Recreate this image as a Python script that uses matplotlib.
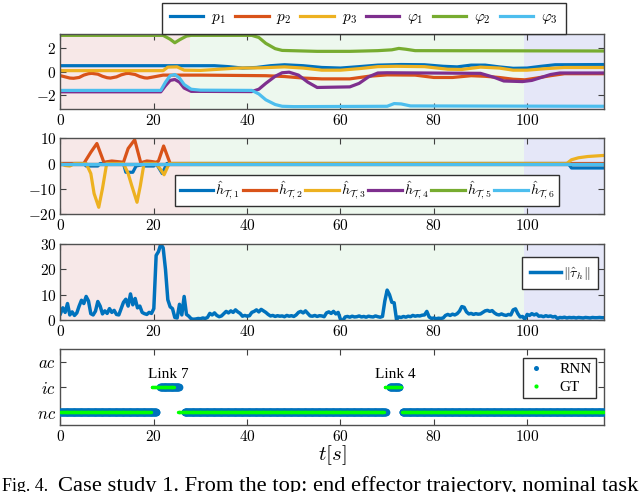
import numpy as np
import matplotlib
matplotlib.use("Agg")
import matplotlib.pyplot as plt
from matplotlib.lines import Line2D

plt.rcParams['font.family'] = 'serif'
plt.rcParams['font.serif'] = ['cmr10']
plt.rcParams['mathtext.fontset'] = 'cm'
plt.rcParams['axes.formatter.use_mathtext'] = True
plt.rcParams['axes.unicode_minus'] = True

# matlab default colours
C = ['#0072BD', '#D95319', '#EDB120', '#7E2F8E', '#77AC30', '#4DBEEE']
BG = ['#F7E8E8', '#EDF8EE', '#E5E7F8']
phase_edges = [0, 27.8, 99.4, 116.5]

# ---- panel 1 : end effector trajectory
p1_t = [0, 33, 36, 39, 42, 45, 48, 52, 56, 60, 64, 68, 73, 78, 82, 85, 88, 91, 94, 97, 100, 103, 106, 117]
p1_v = [0.5, 0.5, 0.42, 0.3, 0.35, 0.5, 0.58, 0.5, 0.35, 0.3, 0.42, 0.55, 0.6, 0.58, 0.45, 0.4, 0.55, 0.55, 0.4, 0.28, 0.3, 0.45, 0.58, 0.6]
p2_t = [0, 1, 2, 2.8, 4, 5, 6, 6.7, 8, 9, 10, 10.7, 12, 13, 14, 14.6, 16, 17, 18, 18.6, 20, 22, 30, 44, 48, 52, 56, 62, 66, 70, 76, 80, 84, 88, 91, 94, 97, 99.5, 102, 105, 108, 117]
p2_v = [-0.35, -0.45, -0.55, -0.57, -0.5, -0.3, -0.18, -0.15, -0.22, -0.4, -0.52, -0.55, -0.45, -0.28, -0.17, -0.15, -0.25, -0.42, -0.53, -0.55, -0.45, -0.3, -0.3, -0.35, -0.42, -0.55, -0.62, -0.62, -0.4, -0.28, -0.3, -0.5, -0.5, -0.35, -0.4, -0.5, -0.65, -0.7, -0.55, -0.35, -0.18, -0.18]
p3_t = [0, 22, 23, 25, 26.5, 30, 34, 38, 43, 48, 52, 56, 60, 64, 68, 72, 78, 83, 86, 90, 94, 97, 100, 104, 108, 117]
p3_v = [0.08, 0.08, 0.38, 0.4, 0.12, 0.1, 0.2, 0.3, 0.32, 0.4, 0.3, 0.12, 0.12, 0.25, 0.42, 0.45, 0.42, 0.2, 0.18, 0.38, 0.3, 0.12, 0.12, 0.25, 0.35, 0.35]
f1_t = [0, 21.5, 22.5, 23.5, 24.5, 25.5, 26.5, 28, 41, 42.5, 44, 46, 47.5, 49, 51, 53, 55, 62, 64, 66, 68, 70, 90, 93, 95, 99, 101, 103, 105, 107, 117]
f1_v = [-1.72, -1.72, -1.2, -0.75, -0.67, -0.9, -1.4, -1.68, -1.7, -1.5, -1.0, -0.4, -0.1, -0.05, -0.3, -0.9, -1.35, -1.3, -1.0, -0.45, -0.12, -0.1, -0.15, -0.5, -0.8, -0.85, -0.75, -0.5, -0.25, -0.12, -0.12]
f2_t = [0, 22, 23.5, 24.5, 25.5, 27, 28, 41, 42.5, 44, 46, 47.5, 55, 62, 68, 71, 72.5, 74, 76, 117]
f2_v = [3.08, 3.08, 2.75, 2.45, 2.7, 3.02, 3.08, 3.08, 2.9, 2.4, 1.95, 1.8, 1.72, 1.72, 1.78, 1.85, 1.97, 1.9, 1.78, 1.75]
f3_t = [0, 21.5, 22.5, 23.5, 24.5, 25.5, 26.5, 28, 30, 41, 42.5, 44, 46, 47.5, 50, 70, 71.5, 73, 75, 117]
f3_v = [-1.6, -1.6, -0.9, -0.35, -0.25, -0.55, -1.1, -1.5, -1.58, -1.6, -1.9, -2.4, -2.8, -2.95, -2.98, -2.95, -2.72, -2.75, -2.92, -2.95]

# ---- panel 2 : nominal task estimates h_T
h1_t = [0, 5, 5.5, 8, 8.5, 13.5, 14, 15.5, 16.2, 17.5, 18, 20, 20.5, 21.8, 22.8, 108.8, 109.5, 117]
h1_v = [0, 0, -1, -1, 0, 0, -3.5, -3.5, -1, -0.5, -1, -1, 0, -4, 0, 0, -1.8, -1.8]
h2_t = [0, 5, 6.5, 7.8, 9.3, 11, 13.5, 14.5, 15.9, 17.2, 18.5, 19.5, 20.5, 21, 22.1, 23.5, 117]
h2_v = [0, 0, 4.5, 8, 0.5, 1, 0.5, 6, 9.5, 0.3, 1, 0.8, 0.5, 1, 7, 0, 0]
h3_t = [0, 1, 2, 3, 5.5, 6.5, 7.2, 8.2, 9, 9.9, 13.5, 14.5, 15.3, 16.4, 17.1, 17.9, 20.5, 21.3, 22.2, 23.3, 108.5, 109.5, 111, 113, 117]
h3_v = [0, -0.8, -1, 0, 0, -4, -12, -17.5, -10, 0, 0, -4, -9, -15.5, -9, 0, 0, -2, -4.5, 0, 0, 1.5, 2.3, 2.8, 3.3]
h4_t = [0, 117]
h4_v = [0, 0]
h5_t = [0, 117]
h5_v = [0, 0]
h6_t = [0, 117]
h6_v = [0, 0]

# ---- panel 3 : ||tau_h||, one value every 0.5 s
tau_v = [
    2.5, 4.8, 3.0, 6.5, 2.0, 3.2, 1.8, 2.8, 5.5, 7.8, 6.5, 9.3, 7.5, 2.5, 2.0, 3.5, 7.3, 5.5, 2.4, 3.6,
    2.6, 4.5, 3.0, 3.8, 2.2, 2.0, 4.5, 7.0, 8.2, 5.5, 10.3, 6.0, 8.5, 4.8, 5.5, 3.0, 2.5, 2.2, 3.0, 2.6,
    4.5, 25.5, 27.0, 30.0, 28.5, 20.0, 8.0, 5.2, 4.5, 1.0, 0.8, 6.2, 2.0, 9.3, 2.2, 1.5, 0.5, 0.3, 0.4, 0.6,
    0.5, 0.8, 0.6, 1.0, 2.6, 2.0, 2.8, 1.8, 1.3, 1.6, 2.5, 3.4, 2.8, 3.6, 3.0, 4.0, 3.2, 2.6, 1.5, 1.8,
    1.5, 1.7, 3.0, 3.4, 4.0, 3.2, 4.2, 3.6, 3.0, 2.2, 1.6, 1.8, 1.4, 1.7, 1.5, 1.6, 1.3, 1.8, 1.5, 1.7,
    1.4, 2.0, 3.0, 3.4, 2.8, 3.6, 2.6, 1.6, 1.5, 1.8, 1.4, 1.7, 1.6, 1.3, 2.8, 3.2, 2.6, 3.4, 2.4, 3.0,
    0.2, -0.2, 1.2, 1.4, 1.1, 1.5, 1.2, 1.3, 1.6, 1.2, 1.4, 1.1, 1.5, 1.3, 1.2, 1.6, 1.3, 1.1, 1.4, 7.5,
    11.8, 10.0, 7.0, 6.8, 0.2, 1.2, 1.0, 1.4, 1.1, 1.5, 1.3, 1.8, 1.5, 1.7, 1.6, 1.9, 2.0, 3.4, 1.2, 0.6,
    0.8, 0.5, 0.7, 0.6, 0.8, 1.8, 2.2, 1.8, 2.3, 2.0, 2.5, 3.5, 5.3, 5.0, 3.2, 2.4, 2.6, 2.2, 2.5, 2.3,
    2.4, 3.0, 3.6, 3.8, 3.4, 3.7, 2.8, 2.2, 2.0, 2.4, 2.0, 1.8, 2.2, 2.0, 4.0, 4.4, 2.5, 1.2, 1.4, 0.3,
    2.2, 1.8, 2.5, 2.0, 2.4, 1.5, 1.6, 1.3, 1.7, 1.4, 1.6, 1.2, 1.4, 0.6, 1.0, 0.9, 1.1, 0.8, 1.0, 0.9,
    1.0, 0.8, 1.0, 0.9, 0.8, 1.0, 0.9, 0.8, 1.0, 0.9, 0.9, 1.0, 0.9, 0.9, 0.9,
]
tau_t = np.arange(len(tau_v)) * 0.5

# ---- panel 4 : contact classification (0 = nc, 1 = ic, 2 = ac)
rnn_start = [0, 21.4, 26.6, 70.6, 73.3]
rnn_end = [20.5, 25.3, 69.7, 72.6, 116.4]
rnn_cls = [0, 1, 0, 1, 0]
gt_start = [0, 19.6, 25.2, 69.5, 73.2]
gt_end = [19.3, 24.3, 69.3, 72.9, 116.4]
gt_cls = [0, 1, 0, 1, 0]
class_labels = ['$nc$', '$ic$', '$ac$']
link_names = ['Link 7', 'Link 4']
link_t = [23.2, 71.8]


def expand(starts, ends, cls, dt=0.1):
    tt, cc = [], []
    for s, e, c in zip(starts, ends, cls):
        seg = np.arange(s, e + 1e-9, dt)
        tt.append(seg)
        cc.append(np.full(len(seg), c))
    return np.concatenate(tt), np.concatenate(cc)


fig = plt.figure(figsize=(6.4, 4.92), dpi=100)
L, R = 0.0945, 0.944
ax1 = fig.add_axes([L, 0.778, R - L, 0.153])
ax2 = fig.add_axes([L, 0.566, R - L, 0.1525])
ax3 = fig.add_axes([L, 0.3496, R - L, 0.1544])
ax4 = fig.add_axes([L, 0.136, R - L, 0.1547])

for ax in (ax1, ax2, ax3):
    for i in range(3):
        ax.axvspan(phase_edges[i], phase_edges[i + 1], color=BG[i], lw=0, zorder=0)

for ax in (ax1, ax2, ax3, ax4):
    ax.set_xlim(0, 116.5)
    ax.set_xticks([0, 20, 40, 60, 80, 100])
    ax.tick_params(direction='in', top=True, right=True, labelsize=11, length=4,
                   color='#404040', pad=3)
    for s in ax.spines.values():
        s.set_color('#505050')
        s.set_linewidth(1.0)

leg_kw = dict(frameon=True, fancybox=False, edgecolor='#303030', framealpha=1,
              borderaxespad=0)

lw = 2.3
ax1.plot(p1_t, p1_v, color=C[0], lw=lw, label='$p_1$')
ax1.plot(p2_t, p2_v, color=C[1], lw=lw, label='$p_2$')
ax1.plot(p3_t, p3_v, color=C[2], lw=lw, label='$p_3$')
ax1.plot(f1_t, f1_v, color=C[3], lw=lw, label=r'$\varphi_1$')
ax1.plot(f2_t, f2_v, color=C[4], lw=lw, label=r'$\varphi_2$')
ax1.plot(f3_t, f3_v, color=C[5], lw=lw, label=r'$\varphi_3$')
ax1.set_ylim(-3.2, 3.2)
ax1.set_yticks([-2, 0, 2])
ax1.legend(loc='lower center', bbox_to_anchor=(0.558, 1.0), ncol=6, fontsize=11,
           handlelength=2.2, columnspacing=0.6, handletextpad=0.5, borderpad=0.5,
           **leg_kw)

hs = [(h1_t, h1_v), (h2_t, h2_v), (h3_t, h3_v), (h4_t, h4_v), (h5_t, h5_v), (h6_t, h6_v)]
for i, (tt, vv) in enumerate(hs):
    ax2.plot(tt, vv, color=C[i], lw=lw, label=r'$\hat{h}_{\mathcal{T},%d}$' % (i + 1))
ax2.set_ylim(-20, 10)
ax2.set_yticks([-20, -10, 0, 10])
ax2.legend(loc='lower center', bbox_to_anchor=(0.564, 0.1), ncol=6, fontsize=10,
           handlelength=2.4, columnspacing=0.2, handletextpad=0.15, borderpad=0.35,
           **leg_kw)

ax3.plot(tau_t, tau_v, color=C[0], lw=2.5, label=r'$\|\hat{\tau}_h\|$')
ax3.set_ylim(0, 30)
ax3.set_yticks([0, 10, 20, 30])
ax3.legend(loc='upper right', bbox_to_anchor=(0.988, 0.83), fontsize=10,
           handlelength=2.2, handletextpad=0.15, borderpad=0.55, **leg_kw)

rt, rc = expand(rnn_start, rnn_end, rnn_cls)
gt, gc = expand(gt_start, gt_end, gt_cls)
ax4.plot(rt, rc, 'o', color=C[0], ms=5.6, mew=0, zorder=3)
ax4.plot(gt, gc, 'o', color='#00FF00', ms=2.4, mew=0, zorder=4)
ax4.set_ylim(-0.5, 2.5)
ax4.set_yticks([0, 1, 2])
ax4.set_yticklabels(class_labels, fontsize=12)
for name, tx in zip(link_names, link_t):
    ax4.text(tx, 1.22, name, ha='center', va='bottom', fontsize=11,
             family='Liberation Serif')
handles = [Line2D([], [], ls='', marker='o', color=C[0], ms=3.6, mew=0),
           Line2D([], [], ls='', marker='o', color='#00FF00', ms=3.0, mew=0)]
ax4.legend(handles, ['RNN', 'GT'], loc='upper right', bbox_to_anchor=(0.985, 0.88),
           prop={'family': 'Liberation Serif', 'size': 11},
           handlelength=1.2, handletextpad=0.9, borderpad=0.3, labelspacing=0.25,
           **leg_kw)
ax4.set_xlabel('$t[s]$', fontsize=15, labelpad=-1)

# caption of the figure, running off the right edge as in the paper crop
fig.text(0.003, 0.003, 'Fig. 4.', ha='left', va='baseline', fontsize=13,
         family='Liberation Serif')
fig.text(58 / 640, 0.003, 'Case study 1. From the top: end effector trajectory, nominal task',
         ha='left', va='baseline', fontsize=16.2, family='Liberation Serif')

fig.savefig('out.png', dpi=100)
